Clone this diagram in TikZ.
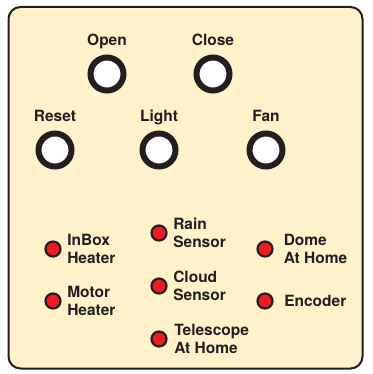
\documentclass[tikz,border=0pt]{standalone}
\usepackage{fontspec}
\setmainfont{TeX Gyre Heros}
\usetikzlibrary{positioning}
\definecolor{panel}{RGB}{255,241,202}
\definecolor{ledred}{RGB}{237,28,36}
\definecolor{ink}{RGB}{35,31,32}

\begin{document}
\begin{tikzpicture}[x=1pt, y=-1pt,
    button/.style={circle, draw=ink, line width=6pt, fill=white, minimum size=33pt, inner sep=0pt},
    led/.style={circle, draw=ink, line width=2.2pt, fill=ledred, minimum size=15pt, inner sep=0pt},
    caption/.style={font=\fontsize{15.5}{18.5}\selectfont\bfseries, text=ink, inner sep=0pt},
    ledtext/.style={caption, align=left}]

    \useasboundingbox (0,0) rectangle (372,374);

    % Panel
    \draw[ink, line width=2pt, fill=panel, rounded corners=12pt] (8.5,7) rectangle (362.5,368.5);

    % Push buttons
    \node[button] (open)  at (107,74)  {};
    \node[button] (close) at (213,74)  {};
    \node[button] (reset) at (55,150)  {};
    \node[button] (light) at (159,150) {};
    \node[button] (fan)   at (266,150) {};

    \foreach \b/\t in {open/Open, close/Close, reset/Reset, light/Light, fan/Fan} {
        \node[caption, text depth=0pt, above=8.5pt of \b] (\b-label) {\t};
    }

    % Indicator LEDs
    \node[led] (inbox)     at (53,249)  {};
    \node[led] (motor)     at (53,301)  {};
    \node[led] (rain)      at (159,233) {};
    \node[led] (cloud)     at (159,286) {};
    \node[led] (telescope) at (159,339) {};
    \node[led] (dome)      at (265,249) {};
    \node[led] (encoder)   at (265,301) {};

    \node[ledtext, right=5.5pt of inbox]     (inbox-label)     {InBox\\Heater};
    \node[ledtext, right=5.5pt of motor]     (motor-label)     {Motor\\Heater};
    \node[ledtext, right=5.5pt of rain]      (rain-label)      {Rain\\Sensor};
    \node[ledtext, right=5.5pt of cloud]     (cloud-label)     {Cloud\\Sensor};
    \node[ledtext, right=6.5pt of telescope] (telescope-label) {Telescope\\At Home};
    \node[ledtext, right=10pt of dome]       (dome-label)      {Dome\\At Home};
    \node[ledtext, right=10.5pt of encoder]  (encoder-label)   {Encoder};

\end{tikzpicture}
\end{document}
